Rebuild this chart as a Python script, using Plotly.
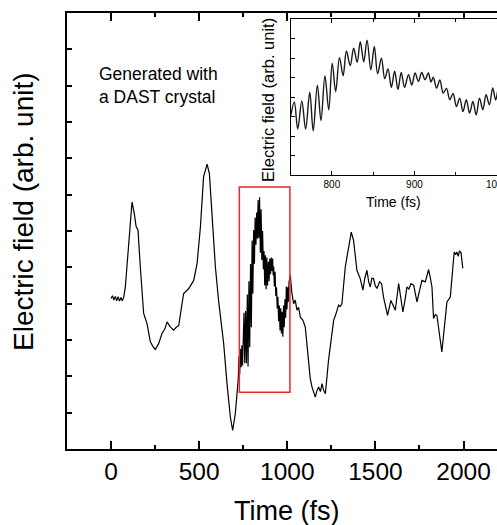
import plotly.graph_objects as go

# Time (fs) and electric field (arb. units; 1 unit = 1 y-tick interval)
t_pre = [0, 8, 16, 24, 32, 40, 48, 56, 64, 72, 81, 100, 112, 119, 126, 132, 142, 153, 166, 175,
         185, 204, 223, 240, 251, 270, 289, 305, 318, 336, 355, 370, 384, 398, 412, 440, 469, 488,
         507, 525, 545, 558, 573, 592, 610, 639, 658, 677, 690, 705, 718,
         722, 726, 730, 734, 738, 742, 746]
e_pre = [4.14, 4.22, 4.10, 4.20, 4.08, 4.19, 4.07, 4.17, 4.08, 4.18, 4.46, 5.56, 6.40, 6.80, 6.62,
         6.48, 6.13, 6.02, 5.01, 4.30, 3.73, 3.45, 2.95, 2.80, 2.74, 2.90, 3.18, 3.30, 3.50, 3.36,
         3.27, 3.35, 3.40, 3.85, 4.28, 4.41, 4.64, 5.10, 6.11, 7.49, 7.84, 7.58, 6.39, 5.01, 4.09,
         2.90, 1.80, 0.88, 0.51, 0.97, 1.71,
         1.95, 2.55, 2.05, 2.75, 2.25, 2.85, 2.30]

t_zoom = [750, 754.5, 758.6, 763.6, 768.2, 773.2, 777.4, 782.4, 786.8, 791.6, 796.2, 800.4, 804.6,
          809.2, 813.6, 817.6, 822.2, 826.4, 830.6, 834.4, 838.6, 842.6, 847.2, 851.4, 855.4,
          860.0, 864.0, 868.0, 872.0, 876.0, 880.0, 884.0, 888.0, 892.8, 896.8, 900.8, 904.8,
          908.8, 912.8, 916.8, 920.0, 922.8, 926.8, 930.8, 934.8, 938.8, 942.8, 946.8, 950.8,
          954.8, 958.8, 962.8, 966.8, 970.8, 974.8, 978.8, 982.8, 986.8, 990.8, 994.8, 998.4,
          1002, 1006, 1010]
e_zoom = [3.00, 3.75, 2.36, 3.80, 2.36, 4.25, 2.27, 4.62, 2.80, 5.09, 3.35, 5.74, 4.28,
          6.03, 5.10, 6.37, 5.62, 6.51, 5.79, 6.85, 5.81, 6.93, 5.40, 6.60, 5.20,
          6.00, 4.95, 5.45, 4.50, 5.33, 4.40, 5.27, 4.50, 5.15, 4.62, 5.24, 4.81,
          5.27, 4.90, 5.24, 4.78, 5.02, 4.47, 4.88, 4.21, 4.45, 3.87, 4.19, 3.52,
          3.95, 3.26, 3.87, 3.18, 3.78, 3.09, 3.95, 3.35, 4.12, 3.61, 4.47, 3.85,
          4.45, 4.05, 4.60]

t_post = [1017, 1026, 1036, 1045, 1055, 1064, 1074, 1088, 1102, 1112, 1121, 1130, 1140, 1150, 1159,
          1168, 1178, 1188, 1197, 1206, 1216, 1234, 1250, 1263, 1275, 1291, 1300, 1310, 1329, 1348,
          1363, 1376, 1386, 1395, 1414, 1429, 1440, 1452, 1462, 1471, 1480, 1489, 1499, 1509, 1524,
          1535, 1546, 1558, 1569, 1588, 1600, 1613, 1632, 1644, 1656, 1668, 1679, 1690, 1702, 1717,
          1736, 1750, 1764, 1783, 1795, 1802, 1812, 1821, 1830, 1840, 1849, 1863, 1877, 1886, 1896,
          1906, 1925, 1935, 1947, 1955, 1962, 1970, 1977, 1986, 1996]
e_post = [4.78, 4.30, 4.00, 4.10, 3.82, 3.90, 3.63, 3.55, 3.36, 2.90, 2.35, 1.95, 1.71, 1.55, 1.43,
          1.60, 1.71, 1.58, 1.80, 1.62, 1.52, 2.44, 3.10, 3.54, 3.70, 3.96, 3.92, 4.00, 5.01, 5.56,
          5.97, 5.74, 5.30, 4.92, 4.69, 4.37, 4.70, 4.92, 4.60, 4.46, 4.70, 4.69, 4.50, 4.42, 4.60,
          4.55, 4.18, 3.90, 3.68, 4.09, 3.95, 3.82, 4.55, 4.10, 3.77, 4.10, 4.46, 4.40, 4.55, 4.51,
          4.05, 4.35, 4.64, 4.60, 4.80, 4.94, 4.70, 4.46, 3.59, 3.70, 3.68, 3.20, 2.67, 3.10, 3.54,
          4.05, 4.18, 4.80, 5.42, 5.35, 5.42, 5.30, 5.45, 5.40, 4.97]

main_xticks = [0, 500, 1000, 1500, 2000]
inset_xticks = [800, 900, 1000]
zoom_box_t = [728, 1015]
zoom_box_e = [1.56, 7.21]

t_all = t_pre + t_zoom + t_post
e_all = e_pre + e_zoom + e_post

FONT = "Liberation Sans, Arial, sans-serif"

fig = go.Figure()
fig.add_trace(go.Scatter(x=t_all, y=e_all, mode="lines",
                         line=dict(color="black", width=1.2), xaxis="x", yaxis="y",
                         showlegend=False, hoverinfo="skip"))
fig.add_trace(go.Scatter(x=t_zoom, y=e_zoom, mode="lines",
                         line=dict(color="#1a1a1a", width=1.4, shape="spline", smoothing=1.0),
                         xaxis="x2", yaxis="y2", showlegend=False, hoverinfo="skip"))

fig.add_shape(type="rect", xref="x", yref="y",
              x0=zoom_box_t[0], x1=zoom_box_t[1], y0=zoom_box_e[0], y1=zoom_box_e[1],
              line=dict(color="#e8282b", width=1.5))

fig.update_layout(
    width=497, height=525,
    margin=dict(l=67, r=0, t=13, b=76, autoexpand=False),
    paper_bgcolor="white", plot_bgcolor="white",
    font=dict(family=FONT, color="black"),
    xaxis=dict(domain=[0, 1], range=[-250, 2190], tickvals=main_xticks,
               ticks="inside", ticklen=8, tickwidth=2, tickcolor="black",
               showline=True, linewidth=2, linecolor="black", mirror="ticks",
               showgrid=False, zeroline=False, tickfont=dict(size=24.5),
               automargin=False,
               minor=dict(dtick=250, tick0=0, ticks="inside", ticklen=4, tickwidth=2,
                          tickcolor="black", showgrid=False)),
    yaxis=dict(domain=[0, 1], range=[0, 12], dtick=1, tick0=0,
               ticks="inside", ticklen=5, tickwidth=2, tickcolor="black",
               showline=True, linewidth=2, linecolor="black", mirror=False,
               showgrid=False, zeroline=False, showticklabels=False, automargin=False),
    xaxis2=dict(domain=[0.52, 1.0], anchor="y2", range=[750, 1000], tickvals=inset_xticks,
                ticks="inside", ticklen=4, tickwidth=1, tickcolor="black",
                showline=True, linewidth=1, linecolor="black", mirror="ticks",
                showgrid=False, zeroline=False, tickfont=dict(size=10),
                ticklabeloverflow="allow", automargin=False,
                minor=dict(dtick=50, tick0=750, ticks="inside", ticklen=3, tickwidth=1,
                           tickcolor="black", showgrid=False)),
    yaxis2=dict(domain=[0.6284, 0.9856], anchor="x2", range=[0, 8], dtick=1, tick0=0,
                ticks="inside", ticklen=4, tickwidth=1, tickcolor="black",
                showline=True, linewidth=1, linecolor="black", mirror=False,
                showgrid=False, zeroline=False, showticklabels=False, automargin=False),
    annotations=[
        dict(text="Electric field (arb. unit)", xref="paper", yref="paper",
             x=-0.1, y=0.5436, textangle=-90, showarrow=False,
             font=dict(size=28), xanchor="center", yanchor="middle"),
        dict(text="Time (fs)", xref="paper", yref="paper", x=0.5116, y=-0.142,
             showarrow=False, font=dict(size=27), xanchor="center", yanchor="middle"),
        dict(text="Generated with<br>a DAST crystal", xref="paper", yref="paper",
             x=0.07, y=0.8326, showarrow=False, align="left", font=dict(size=17.5),
             xanchor="left", yanchor="middle"),
        dict(text="Electric field (arb. unit)", xref="paper", yref="paper",
             x=0.4674, y=0.8005, textangle=-90, showarrow=False,
             font=dict(size=16.5), xanchor="center", yanchor="middle"),
        dict(text="Time (fs)", xref="paper", yref="paper", x=0.759, y=0.5665,
             showarrow=False, font=dict(size=14), xanchor="center", yanchor="middle"),
    ],
)

fig.write_html("out.html", config={"displayModeBar": False},
               post_script="document.body.style.margin='0';document.body.style.overflow='hidden';")
